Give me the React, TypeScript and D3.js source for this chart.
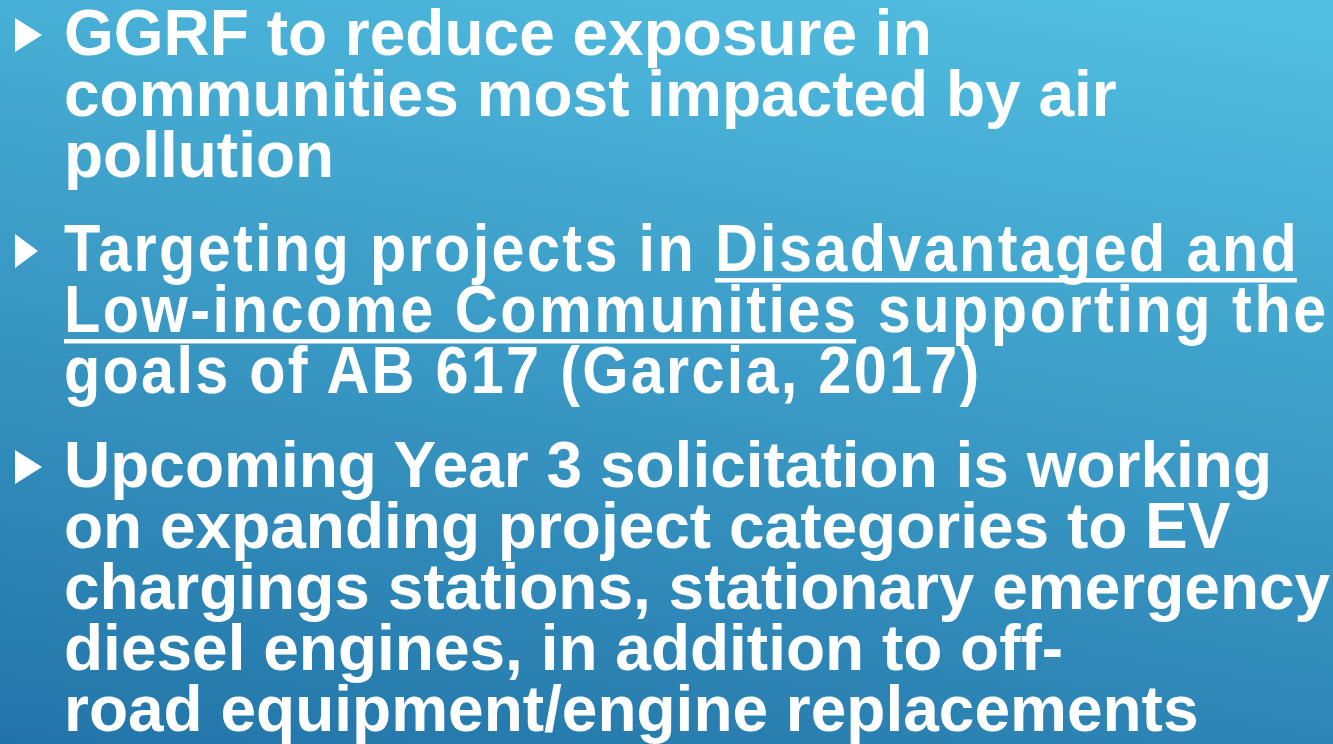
import React, { useEffect, useRef } from 'react'
import * as d3 from 'd3'

// slide text, one array per bullet; segments flagged "u" are underlined
type Seg = { t: string; u?: boolean }

const bullet1: Seg[][] = [
  [{ t: 'GGRF to reduce exposure in' }],
  [{ t: 'communities most impacted by air' }],
  [{ t: 'pollution' }],
]

const bullet2: Seg[][] = [
  [{ t: 'Targeting projects in ' }, { t: 'Disadvantaged and', u: true }],
  [{ t: 'Low-income Communities', u: true }, { t: ' supporting the' }],
  [{ t: 'goals of AB 617 (Garcia, 2017)' }],
]

const bullet3: Seg[][] = [
  [{ t: 'Upcoming Year 3 solicitation is working' }],
  [{ t: 'on expanding project categories to EV' }],
  [{ t: 'chargings stations, stationary emergency' }],
  [{ t: 'diesel engines, in addition to off-' }],
  [{ t: 'road equipment/engine replacements' }],
]

const bullets = [bullet1, bullet2, bullet3]
const narrowBullets = [false, true, false]

const gradientStops = ['#52bfe2', '#2274a8']

export default function App() {
  const svgRef = useRef<SVGSVGElement>(null)

  useEffect(() => {
    if (!svgRef.current) return
    const svg = d3.select(svgRef.current)
    svg.selectAll('*').remove()

    const W = 1333
    const H = 744
    const textX = 64
    const fontSize = 64
    const lineStep = 61
    const paraGap = 33
    const squeeze = 0.9 // narrower face for the second bullet
    const font = "'Liberation Sans', Arial, sans-serif"

    const defs = svg.append('defs')
    const grad = defs.append('linearGradient')
      .attr('id', 'bg')
      .attr('gradientUnits', 'userSpaceOnUse')
      .attr('x1', 1250).attr('y1', 0)
      .attr('x2', 1101).attr('y2', 922)
    grad.selectAll('stop')
      .data(gradientStops)
      .enter()
      .append('stop')
      .attr('offset', (_, i) => i)
      .attr('stop-color', d => d)

    svg.append('rect')
      .attr('width', W)
      .attr('height', H)
      .attr('fill', 'url(#bg)')

    let baseline = 55
    bullets.forEach((lines, bi) => {
      const narrow = narrowBullets[bi]
      // bullet marker
      const bw = narrow ? 23 : 27
      svg.append('path')
        .attr('d', d3.line()([[15, baseline - 37], [15, baseline - 3], [15 + bw, baseline - 20]]) + 'Z')
        .attr('fill', '#ffffff')

      lines.forEach(segs => {
        const g = svg.append('g')
          .attr('transform', `translate(${textX},${baseline})`)

        const text = g.append('text')
          .attr('x', 0)
          .attr('y', 0)
          .attr('fill', '#ffffff')
          .attr('font-family', font)
          .attr('font-weight', 700)
          .attr('font-size', fontSize)
          .style('white-space', 'pre')

        segs.forEach(s => text.append('tspan').text(s.t))

        const node = text.node() as SVGTextElement
        if (narrow) {
          // condensed, slightly taller glyphs spread out to the regular line width
          const w = node.getComputedTextLength()
          g.attr('transform', `translate(${textX},${baseline}) scale(${squeeze},1)`)
          text.attr('font-size', fontSize + 2)
            .attr('textLength', w / squeeze)
            .attr('lengthAdjust', 'spacing')
        }

        let idx = 0
        segs.forEach(s => {
          if (s.u) {
            const x0 = node.getStartPositionOfChar(idx).x
            const x1 = node.getEndPositionOfChar(idx + s.t.length - 1).x
            g.append('rect')
              .attr('x', x0)
              .attr('y', 7)
              .attr('width', x1 - x0)
              .attr('height', 4.5)
              .attr('fill', '#ffffff')
          }
          idx += s.t.length
        })

        baseline += lineStep
      })
      baseline += paraGap
    })
  }, [])

  return (
    <svg
      ref={svgRef}
      width={1333}
      height={744}
      style={{ position: 'fixed', left: 0, top: 0, display: 'block' }}
    />
  )
}
